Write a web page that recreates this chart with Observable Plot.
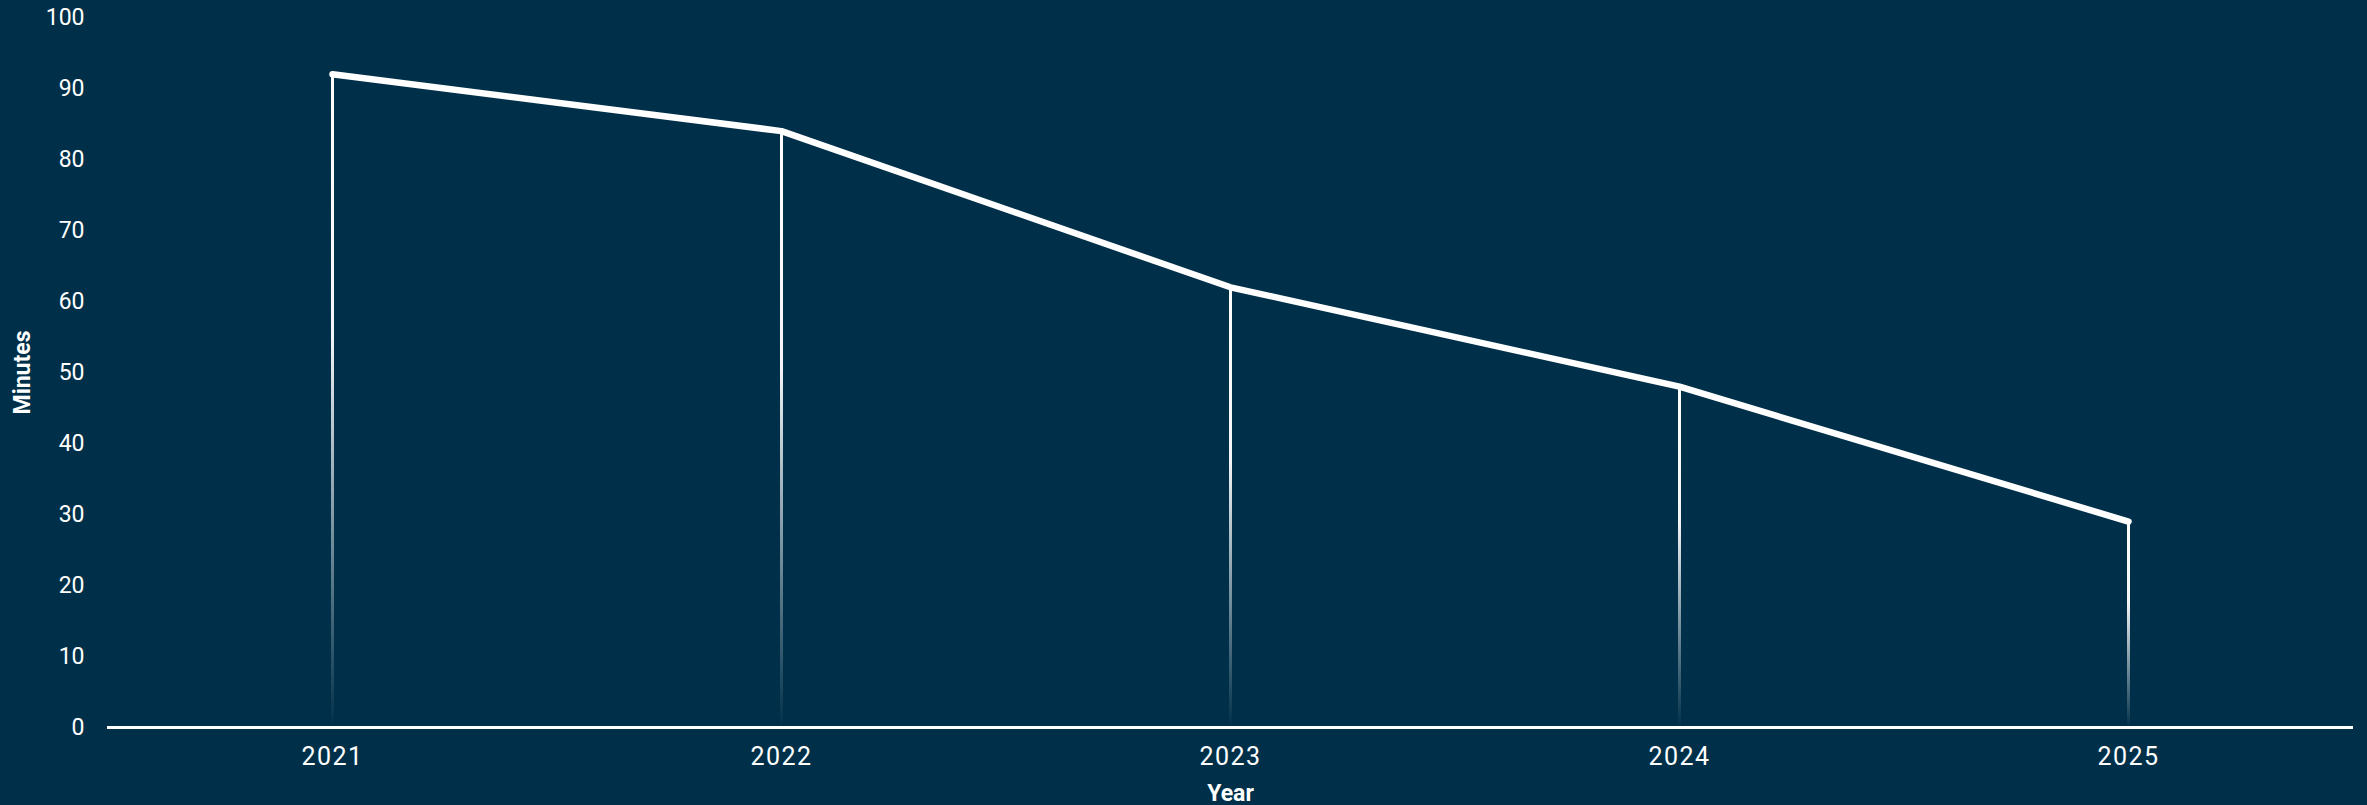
<!DOCTYPE html>
<html>
<head>
<meta charset="utf-8">
<script src="https://cdn.jsdelivr.net/npm/d3@7"></script>
<script src="https://cdn.jsdelivr.net/npm/@observablehq/plot@0.6"></script>
<style>
  html, body { margin: 0; padding: 0; background: #003049; }
  #chart svg { display: block; }
</style>
</head>
<body>
<div id="chart"></div>
<script>
const years = ["2021", "2022", "2023", "2024", "2025"];
const minutes = [92, 84, 62, 48, 29];
const yTicks = [0, 10, 20, 30, 40, 50, 60, 70, 80, 90, 100];
const xLabel = "Year";
const yLabel = "Minutes";

const data = years.map((y, i) => ({year: y, minutes: minutes[i], id: "grad" + i}));

const W = 2367, H = 805;
const bg = "#003049";
const fg = "#ffffff";

const plot = Plot.plot({
  width: W,
  height: H,
  marginLeft: 107,
  marginRight: 14,
  marginTop: 17,
  marginBottom: 78,
  style: {background: bg, color: fg, fontFamily: "Roboto, sans-serif", overflow: "visible"},
  x: {type: "point", domain: years, padding: 0.5, label: null},
  y: {domain: [0, 100], label: null},
  marks: [
    Plot.axisY({ticks: yTicks, tickSize: 0, tickPadding: 23, fontSize: 23, label: null, fill: fg}),
    Plot.axisX({tickSize: 0, tickPadding: 20, fontSize: 25, label: null, fill: fg}),
    Plot.ruleX(data, {x: "year", y1: 0, y2: "minutes", stroke: d => `url(#${d.id})`, strokeWidth: 3}),
    Plot.ruleY([0], {stroke: fg, strokeWidth: 3}),
    Plot.line(data, {x: "year", y: "minutes", stroke: fg, strokeWidth: 6.5, strokeLinecap: "round", strokeLinejoin: "round"}),
    Plot.text([xLabel], {text: d => d, frameAnchor: "bottom", lineAnchor: "middle", textAnchor: "middle", dy: 66, fontSize: 23, fontWeight: "bold", fill: fg}),
    Plot.text([yLabel], {text: d => d, frameAnchor: "left", textAnchor: "middle", lineAnchor: "middle", dx: -85, rotate: -90, fontSize: 23, fontWeight: "bold", fill: fg})
  ]
});

// gradients for the vertical drop lines: white at the top, fading to transparent at the baseline
const ys = plot.scale("y");
const svgNS = "http://www.w3.org/2000/svg";
const defs = document.createElementNS(svgNS, "defs");
data.forEach(d => {
  const g = document.createElementNS(svgNS, "linearGradient");
  g.setAttribute("id", d.id);
  g.setAttribute("gradientUnits", "userSpaceOnUse");
  g.setAttribute("x1", 0); g.setAttribute("x2", 0);
  g.setAttribute("y1", ys.apply(d.minutes));
  g.setAttribute("y2", ys.apply(0));
  [[0, 1], [0.4, 0.95], [1, 0]].forEach(([o, a]) => {
    const s = document.createElementNS(svgNS, "stop");
    s.setAttribute("offset", o);
    s.setAttribute("stop-color", fg);
    s.setAttribute("stop-opacity", a);
    g.appendChild(s);
  });
  defs.appendChild(g);
});
plot.insertBefore(defs, plot.firstChild);

// letter spacing on x tick labels
plot.querySelectorAll("g[aria-label='x-axis tick label'] text").forEach(t => t.setAttribute("letter-spacing", "1.5"));

document.getElementById("chart").appendChild(plot);
</script>
</body>
</html>
